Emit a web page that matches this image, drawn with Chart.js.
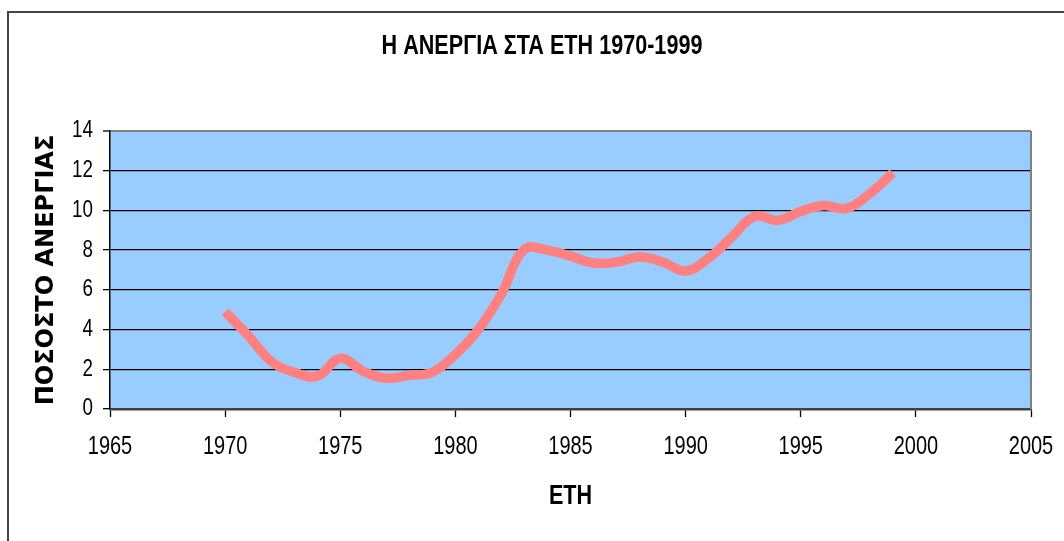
<!DOCTYPE html>
<html><head><meta charset="utf-8">
<script src="https://cdn.jsdelivr.net/npm/chart.js@4.4.1/dist/chart.umd.min.js"></script>
<style>html,body{margin:0;padding:0;background:#fff;}#wrap{width:1064px;height:541px;position:relative;}</style>
</head><body><div id="wrap"><canvas id="c" width="1064" height="541"></canvas></div>
<script>
const years = [1970,1971,1972,1973,1974,1975,1976,1977,1978,1979,1980,1981,1982,1983,1984,1985,1986,1987,1988,1989,1990,1991,1992,1993,1994,1995,1996,1997,1998,1999];
const unemployment = [4.9,3.7,2.4,1.85,1.65,2.55,1.9,1.55,1.7,1.85,2.75,4.0,5.8,8.05,8.0,7.7,7.35,7.4,7.65,7.4,6.95,7.6,8.65,9.7,9.5,9.95,10.25,10.1,10.85,11.9];
const xTicks = [1965,1970,1975,1980,1985,1990,1995,2000,2005];
const yTicks = [0,2,4,6,8,10,12,14];
const chartTitle = 'Η ΑΝΕΡΓΙΑ ΣΤΑ ΕΤΗ 1970-1999';
const xTitle = 'ΕΤΗ';
const yTitle = 'ΠΟΣΟΣΤΟ ΑΝΕΡΓΙΑΣ';

const SANS = '"Liberation Sans", Arial, sans-serif';
const WIDE = '"DejaVu Sans", sans-serif';
const CONDENSE = 0.8;

// Narrow look of the original text: draw Liberation Sans text horizontally condensed.
const condensePlugin = {
  id: 'condense',
  beforeInit(chart) {
    const ctx = chart.ctx;
    const orig = ctx.fillText.bind(ctx);
    ctx.fillText = function (t, x, y, mw) {
      if (this.font.indexOf('Liberation Sans') === -1) return orig(t, x, y, mw);
      this.save();
      this.translate(x, y);
      this.scale(CONDENSE, 1);
      orig(t, 0, 0);
      this.restore();
    };
  }
};

const framePlugin = {
  id: 'frame',
  beforeDraw(chart) {
    const {ctx, chartArea: a} = chart;
    ctx.save();
    ctx.fillStyle = '#fff';
    ctx.fillRect(0, 0, chart.width, chart.height);
    ctx.strokeStyle = '#444';
    ctx.lineWidth = 2;
    ctx.beginPath();
    ctx.moveTo(8, chart.height + 5);
    ctx.lineTo(8, 12);
    ctx.lineTo(chart.width + 5, 12);
    ctx.stroke();
    ctx.fillStyle = '#99CCFF';
    ctx.fillRect(a.left, a.top, a.right - a.left, a.bottom - a.top);
    ctx.restore();
  },
  beforeDatasetsDraw(chart) {
    const {ctx, chartArea: a} = chart;
    ctx.save();
    ctx.strokeStyle = '#808080';
    ctx.lineWidth = 2;
    ctx.beginPath();
    ctx.moveTo(a.right, a.top);
    ctx.lineTo(a.right, a.bottom);
    ctx.stroke();
    ctx.restore();
  }
};

new Chart(document.getElementById('c'), {
  type: 'line',
  data: {
    datasets: [{
      data: years.map((y, i) => ({x: y, y: unemployment[i]})),
      borderColor: '#FF8080',
      borderWidth: 9.5,
      pointRadius: 0,
      tension: 0.4,
      fill: false
    }]
  },
  options: {
    responsive: false,
    animation: false,
    devicePixelRatio: 1,
    layout: {padding: {left: 20, right: 0, top: 0, bottom: 0}},
    plugins: {
      legend: {display: false},
      tooltip: {enabled: false},
      title: {
        display: true,
        text: chartTitle,
        color: '#000',
        font: {family: SANS, size: 27, weight: 'bold'},
        padding: {top: 30.8, bottom: 67.8}
      }
    },
    scales: {
      x: {
        type: 'linear',
        min: 1965, max: 2005,
        afterBuildTicks: s => { s.ticks = xTicks.map(v => ({value: v})); },
        afterFit: s => { s.height = 132; s.paddingLeft = 0; s.paddingRight = 0; },
        ticks: {
          color: '#000',
          font: {family: SANS, size: 25},
          padding: 15.3,
          maxRotation: 0,
          autoSkip: false,
          callback: v => String(v)
        },
        grid: {drawOnChartArea: false, drawTicks: true, tickLength: 8, tickColor: '#000', tickWidth: 1.3},
        border: {color: '#404040', width: 2.5},
        title: {
          display: true, text: xTitle, color: '#000',
          font: {family: SANS, size: 27, weight: 'bold'},
          padding: {top: 0, bottom: 28.2}
        }
      },
      y: {
        min: 0, max: 14,
        afterBuildTicks: s => { s.ticks = yTicks.map(v => ({value: v})); },
        afterFit: s => { s.width = 90; },
        ticks: {
          color: '#000',
          font: {family: SANS, size: 23.5},
          padding: 10,
          callback: v => String(v)
        },
        grid: {
          color: c => c.tick && c.tick.value === 14 ? '#808080' : (c.tick && c.tick.value === 0 ? 'rgba(0,0,0,0)' : '#000'),
          lineWidth: c => c.tick && c.tick.value === 14 ? 2 : 1.3,
          tickColor: '#000', tickLength: 7, tickWidth: 1.3
        },
        border: {color: '#000', width: 1.5},
        title: {
          display: true, text: yTitle, color: '#000',
          font: {family: WIDE, size: 24, weight: 'bold'},
          padding: {top: 12.3, bottom: 0}
        }
      },
      pad: {
        type: 'linear', position: 'right', display: true,
        afterFit: s => { s.width = 33; },
        grid: {display: false},
        ticks: {display: false},
        border: {display: false}
      }
    }
  },
  plugins: [condensePlugin, framePlugin]
});
</script>
</body></html>
